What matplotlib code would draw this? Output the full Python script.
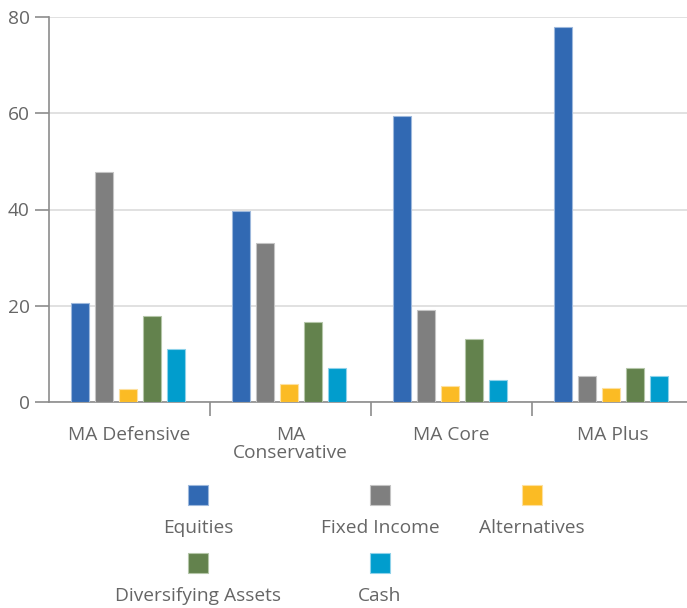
import matplotlib
matplotlib.use("Agg")
import matplotlib.pyplot as plt
from matplotlib.patches import Rectangle
import numpy as np

# Asset allocation (%) by portfolio
categories = ["MA Defensive", "MA\nConservative", "MA Core", "MA Plus"]
series_names = ["Equities", "Fixed Income", "Alternatives", "Diversifying Assets", "Cash"]
equities = [20.6, 39.6, 59.5, 78.0]
fixed_income = [47.7, 33.0, 19.1, 5.5]
alternatives = [2.8, 3.8, 3.4, 3.0]
diversifying = [17.8, 16.6, 13.0, 7.0]
cash = [11.0, 7.0, 4.5, 5.5]
colors = ["#3169b3", "#7f7f7f", "#fbbb24", "#63824d", "#019dcd"]
edge_colors = ["#9db8dc", "#c4c4c4", "#fde0a0", "#b4c6a8", "#8ed2ea"]
y_ticks = [0, 20, 40, 60, 80]

series = [equities, fixed_income, alternatives, diversifying, cash]

plt.rcParams["font.family"] = ["Open Sans", "DejaVu Sans"]
FS = 13.8
TXT = "#666666"

W, H = 687, 608
fig = plt.figure(figsize=(W / 100, H / 100), dpi=100)
ax = fig.add_axes([49 / W, 206 / H, (693 - 49) / W, 385 / H])

x = np.arange(len(categories))
bar_w = 0.116
step = 0.149
shift = -0.009
for i, (vals, c, ec) in enumerate(zip(series, colors, edge_colors)):
    offs = (i - 2) * step + shift
    ax.bar(x + offs, vals, width=bar_w, color=c, edgecolor=ec, linewidth=0.8,
           zorder=3)

ax.set_xlim(-0.5, len(categories) - 0.5)
ax.set_ylim(0, 80)
ax.set_yticks(y_ticks)
ax.yaxis.grid(True, color="#dcdcdc", linewidth=1.2, zorder=0)
ax.set_axisbelow(True)

ax.set_xticks(x)
ax.set_xticklabels(categories, linespacing=1.05)
ax.set_xticks(np.arange(0.5, len(categories) - 0.5, 1.0), minor=True)
ax.tick_params(axis="x", which="major", length=0, pad=17, labelsize=FS,
               labelcolor=TXT)
ax.tick_params(axis="x", which="minor", length=10, width=1.2, color="#8c8c8c")
ax.tick_params(axis="y", length=10, width=1.2, color="#8c8c8c", pad=4,
               labelsize=FS, labelcolor=TXT)

for side in ["top", "right"]:
    ax.spines[side].set_visible(False)
for side in ["left", "bottom"]:
    ax.spines[side].set_color("#8c8c8c")
    ax.spines[side].set_linewidth(1.2)

# Legend: colour squares with names centred underneath, three per row
legend_pos = [(198, 495), (380, 495), (532, 495), (198, 563), (380, 563)]
label_dy = 33
for name, c, ec, (cx, cy) in zip(series_names, colors, edge_colors, legend_pos):
    fig.add_artist(Rectangle(((cx - 10) / W, (H - cy - 10) / H), 20 / W, 20 / H,
                             transform=fig.transFigure, facecolor=c,
                             edgecolor=ec, linewidth=0.8))
    fig.text(cx / W, (H - cy - label_dy) / H, name, ha="center", va="center",
             fontsize=FS, color=TXT)

fig.savefig("out.png", dpi=100, facecolor="white")
